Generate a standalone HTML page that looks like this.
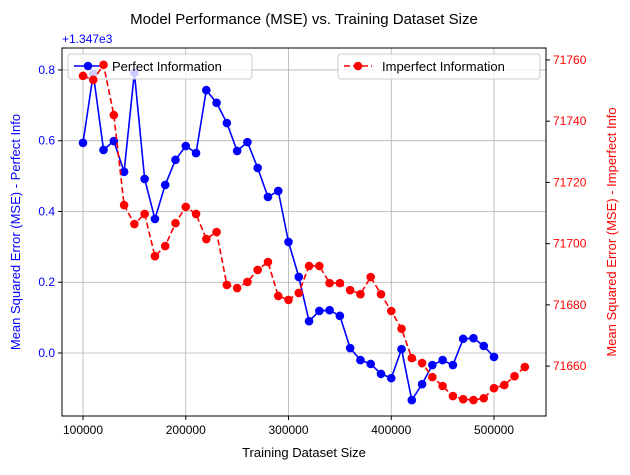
<!DOCTYPE html>
<html><head><meta charset="utf-8"><style>
body{margin:0;background:#fff}
svg{font-family:"Liberation Sans","DejaVu Sans",sans-serif}
</style></head><body>
<svg id="chart" width="630" height="470" xmlns="http://www.w3.org/2000/svg"></svg>
<script>
const xsBlue = [100000,110000,120000,130000,140000,150000,160000,170000,180000,190000,200000,210000,220000,230000,240000,250000,260000,270000,280000,290000,300000,310000,320000,330000,340000,350000,360000,370000,380000,390000,400000,410000,420000,430000,440000,450000,460000,470000,480000,490000,500000];
const perfectVals = [0.594,0.789,0.574,0.599,0.512,0.792,0.492,0.379,0.475,0.546,0.585,0.565,0.743,0.707,0.650,0.571,0.596,0.523,0.441,0.458,0.314,0.215,0.090,0.119,0.121,0.105,0.014,-0.020,-0.031,-0.059,-0.071,0.011,-0.133,-0.088,-0.034,-0.020,-0.034,0.040,0.042,0.020,-0.011];
const xsRed = [100000,110000,120000,130000,140000,150000,160000,170000,180000,190000,200000,210000,220000,230000,240000,250000,260000,270000,280000,290000,300000,310000,320000,330000,340000,350000,360000,370000,380000,390000,400000,410000,420000,430000,440000,450000,460000,470000,480000,490000,500000,510000,520000,530000];
const imperfectVals = [71754.8,71753.5,71758.4,71742.0,71712.6,71706.4,71709.7,71695.9,71699.2,71706.7,71712.0,71709.7,71701.5,71703.8,71686.5,71685.5,71687.5,71691.4,71694.0,71682.9,71681.6,71683.9,71692.7,71692.7,71687.1,71687.1,71684.8,71683.5,71689.1,71683.5,71678.0,71672.2,71662.6,71661.0,71656.4,71653.5,71650.2,71649.2,71648.9,71649.5,71652.8,71653.8,71656.7,71659.7];
const xTicks = [100000,200000,300000,400000,500000];
const leftTicks = [0.0,0.2,0.4,0.6,0.8];
const rightTicks = [71660,71680,71700,71720,71740,71760];

const L=62,R=546,T=48,B=416;
const X=v=>L+(v-79560)/(550600-79560)*(R-L);
const YL=v=>B-(v-(-0.178))/(0.862-(-0.178))*(B-T);
const YR=v=>B-(v-71643.7)/(71763.9-71643.7)*(B-T);
const svg=document.getElementById('chart');
const NS='http://www.w3.org/2000/svg';
function mk(tag,attrs,parent){const e=document.createElementNS(NS,tag);for(const k in attrs)e.setAttribute(k,attrs[k]);(parent||svg).appendChild(e);return e;}
function txt(s,attrs){const e=mk('text',attrs);e.textContent=s;return e;}

const grid=mk('g',{});


xTicks.forEach(v=>{mk('line',{x1:X(v),x2:X(v),y1:T,y2:B,stroke:'#b0b0b0','stroke-width':0.8},grid);});
leftTicks.forEach(v=>{mk('line',{x1:L,x2:R,y1:YL(v),y2:YL(v),stroke:'#b0b0b0','stroke-width':0.8},grid);});

xTicks.forEach(v=>{
  mk('line',{x1:X(v),x2:X(v),y1:B,y2:B+4,stroke:'#000'});
  const t=txt(String(v),{x:X(v),y:B+18,'font-size':12,'text-anchor':'middle',fill:'#000'});
  
  
});
leftTicks.forEach(v=>{
  mk('line',{x1:L-4,x2:L,y1:YL(v),y2:YL(v),stroke:'#000'});
  const t=txt(v.toFixed(1),{x:L-7,y:YL(v)+4,'font-size':12,'text-anchor':'end',fill:'blue'});
  
  
});
rightTicks.forEach(v=>{
  mk('line',{x1:R,x2:R+4,y1:YR(v),y2:YR(v),stroke:'#000'});
  const t=txt(String(v),{x:R+7,y:YR(v)+4,'font-size':12,'text-anchor':'start',fill:'red'});
  
  
});

function series(xs,vals,Y,color,dash,name){
  const g=mk('g',{});
  
  
  mk('polyline',{points:xs.map((x,i)=>X(x)+','+Y(vals[i])).join(' '),fill:'none',stroke:color,'stroke-width':1.6,'stroke-dasharray':dash},g);
  xs.forEach((x,i)=>{
    const c=mk('circle',{cx:X(x),cy:Y(vals[i]),r:4.3,fill:color},g);
    
    
  });
}
series(xsBlue,perfectVals,YL,'blue','','perfect-series');

const lg1=mk('g',{});


mk('rect',{x:68,y:54,width:184,height:25,rx:3,fill:'#fff','fill-opacity':0.8,stroke:'#ccc'},lg1);
mk('line',{x1:74,x2:102,y1:66,y2:66,stroke:'blue','stroke-width':1.6},lg1);
mk('circle',{cx:88,cy:66,r:4.3,fill:'blue'},lg1);
const t1=txt('Perfect Information',{x:112,y:71,'font-size':13,fill:'#000'});lg1.appendChild(t1);

series(xsRed,imperfectVals,YR,'red','6,3','imperfect-series');

const lg2=mk('g',{});


mk('rect',{x:338,y:54,width:202,height:25,rx:3,fill:'#fff','fill-opacity':0.8,stroke:'#ccc'},lg2);
mk('line',{x1:344,x2:372,y1:66,y2:66,stroke:'red','stroke-width':1.6,'stroke-dasharray':'6,3'},lg2);
mk('circle',{cx:358,cy:66,r:4.3,fill:'red'},lg2);
const t2=txt('Imperfect Information',{x:382,y:71,'font-size':13,fill:'#000'});lg2.appendChild(t2);

mk('rect',{x:L,y:T,width:R-L,height:B-T,fill:'none',stroke:'#000','stroke-width':1});

const title=txt('Model Performance (MSE) vs. Training Dataset Size',{x:304,y:24,'font-size':15,'text-anchor':'middle',fill:'#000'});


const off=txt('+1.347e3',{x:62,y:43,'font-size':12,fill:'blue'});


const xt=txt('Training Dataset Size',{x:304,y:457,'font-size':13,'text-anchor':'middle',fill:'#000'});


const yl=txt('Mean Squared Error (MSE) - Perfect Info',{x:0,y:0,'font-size':13,'text-anchor':'middle',fill:'blue',transform:'translate(20,232) rotate(-90)'});


const yr=txt('Mean Squared Error (MSE) - Imperfect Info',{x:0,y:0,'font-size':13,'text-anchor':'middle',fill:'red',transform:'translate(616,232) rotate(-90)'});


</script>
</body></html>
